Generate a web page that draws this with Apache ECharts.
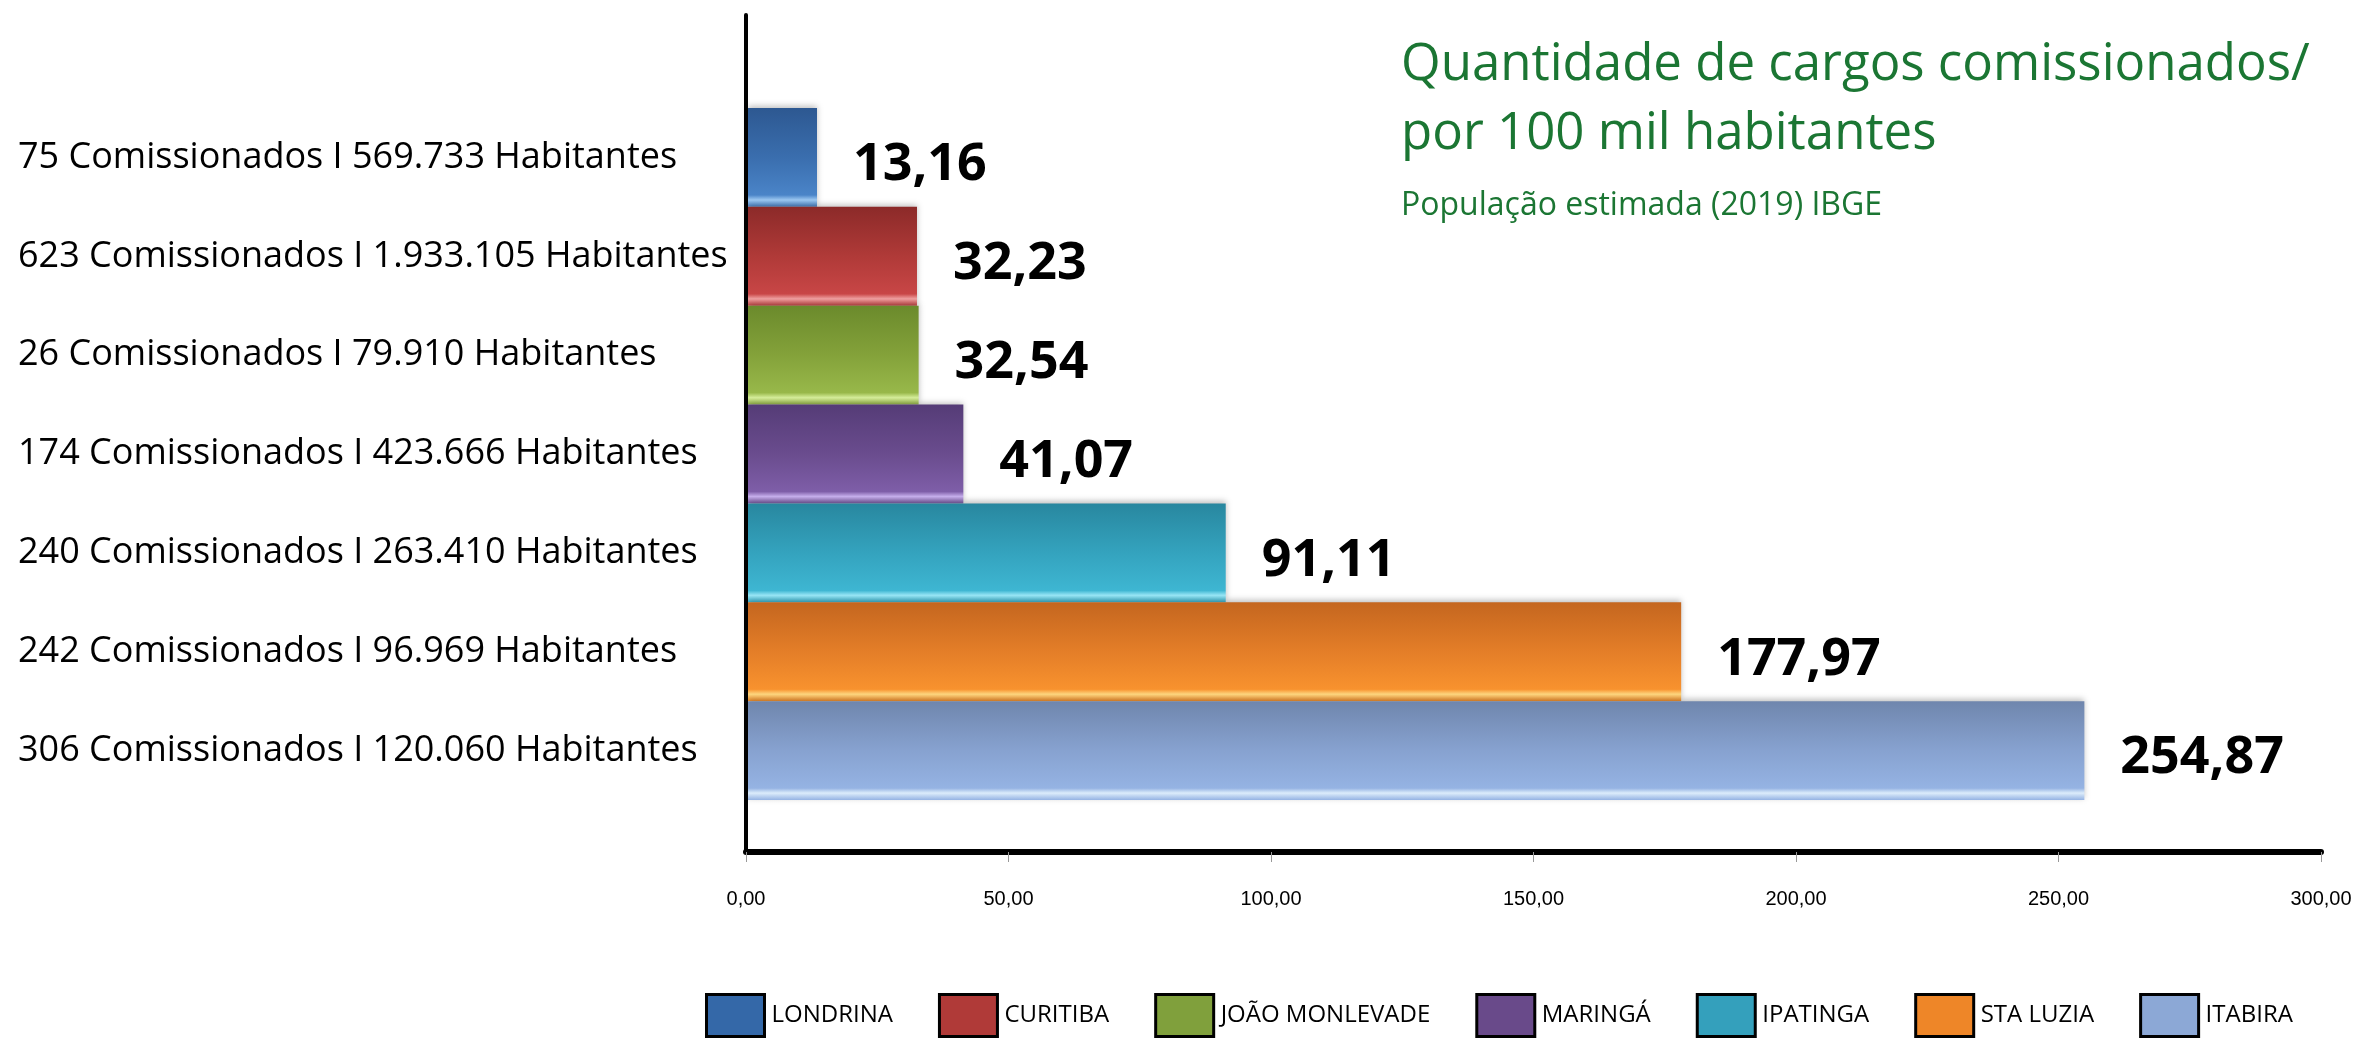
<!DOCTYPE html>
<html>
<head>
<meta charset="utf-8">
<title>Cargos comissionados por 100 mil habitantes</title>
<script src="https://cdn.jsdelivr.net/npm/echarts@6/dist/echarts.min.js"></script>
<style>
	html, body { margin: 0; padding: 0; background: #fff; }
	#bar { width: 2356px; height: 1039px; }
</style>
</head>
<body>
<div id="bar"></div>
<script>
var cidades = ['LONDRINA', 'CURITIBA', 'JOÃO MONLEVADE', 'MARINGÁ', 'IPATINGA', 'STA LUZIA', 'ITABIRA'];
var rotulos = [
	'75 Comissionados I 569.733 Habitantes',
	'623 Comissionados I 1.933.105 Habitantes',
	'26 Comissionados I 79.910 Habitantes',
	'174 Comissionados I 423.666 Habitantes',
	'240 Comissionados I 263.410 Habitantes',
	'242 Comissionados I 96.969 Habitantes',
	'306 Comissionados I 120.060 Habitantes'
];
var valores = [13.16, 32.23, 32.54, 41.07, 91.11, 177.97, 254.87];
var ticksX = [0, 50, 100, 150, 200, 250, 300];

// cores: topo, meio, base, brilho (efeito 3D do excel)
var cores = [
	['#2d5891', '#3a6eae', '#4a84c8', '#9cc8f2'],
	['#8c2a29', '#b03a38', '#c84646', '#f0a0a0'],
	['#6b8a2c', '#84a23a', '#98b84a', '#d6ee9a'],
	['#553c77', '#6a4c8e', '#7e5ea8', '#c8b0ee'],
	['#28879f', '#34a3be', '#3eb6d2', '#9ae8f8'],
	['#c4661f', '#e47e28', '#f8922e', '#ffd880'],
	['#6f86ad', '#87a2d0', '#95b3e3', '#dcecfb']
];
var coresLegenda = ['#3468a8', '#b03a38', '#80a03c', '#694a8a', '#34a0bc', '#ee8628', '#8ca8d6'];

function virgula(v) {
	return Number(v).toFixed(2).replace('.', ',');
}

function myChartInit() {
	var myChart = echarts.init(document.getElementById('bar'));

	var series = [];
	for (var i = 0, il = cidades.length; i < il; i++) {
		var dados = [];
		for (var j = 0; j < valores.length; j++) {
			dados.push(j === i ? valores[j] : '-');
		}
		series.push({
			name: cidades[i],
			type: 'bar',
			stack: 'cidades',
			xAxisIndex: 0,
			yAxisIndex: 0,
			barCategoryGap: 0,
			data: dados,
			itemStyle: {
				color: new echarts.graphic.LinearGradient(0, 0, 0, 1, [
					{ offset: 0, color: cores[i][0] },
					{ offset: 0.5, color: cores[i][1] },
					{ offset: 0.88, color: cores[i][2] },
					{ offset: 0.93, color: cores[i][3] },
					{ offset: 1, color: cores[i][2] }
				]),
				shadowColor: 'rgba(0,0,0,0.25)',
				shadowBlur: 6,
				shadowOffsetY: -2
			},
			label: {
				show: true,
				position: 'right',
				distance: 36,
				offset: [0, 8],
				formatter: function(p) { return virgula(p.value); },
				color: '#000',
				fontFamily: 'Open Sans',
				fontWeight: 'bold',
				fontSize: 52
			}
		});
	}

	var option = {
		backgroundColor: '#fff',
		animation: false,
		title: {
			text: 'Quantidade de cargos comissionados/\npor 100 mil habitantes',
			subtext: 'População estimada (2019) IBGE',
			left: 1396,
			top: 26,
			itemGap: 18,
			textStyle: {
				color: '#1b7633',
				fontFamily: 'Open Sans',
				fontWeight: 'normal',
				fontSize: 51,
				lineHeight: 69
			},
			subtextStyle: {
				color: '#1b7633',
				fontFamily: 'Open Sans',
				fontSize: 32,
				lineHeight: 38
			}
		},
		legend: {
			left: 700,
			top: 988,
			itemGap: 45,
			itemWidth: 58,
			itemHeight: 42,
			textStyle: { color: '#000', fontFamily: 'Open Sans', fontSize: 24, padding: [10, 0, 0, 2] },
			itemStyle: { borderColor: '#000', borderWidth: 3 },
			data: cidades.map(function(c, i) {
				return { name: c, icon: 'rect', itemStyle: { color: coresLegenda[i] } };
			})
		},
		grid: [
			{ left: 748, right: 35, top: 108, height: 692 },
			{ left: 746, right: 35, top: 15, bottom: 187 }
		],
		xAxis: [
			{ gridIndex: 0, type: 'value', min: ticksX[0], max: ticksX[ticksX.length - 1], show: false },
			{
				gridIndex: 1,
				type: 'value',
				min: ticksX[0],
				max: ticksX[ticksX.length - 1],
				interval: ticksX[1] - ticksX[0],
				axisLine: { show: true, lineStyle: { color: '#000', width: 6 } },
				axisTick: { show: true, length: 10, lineStyle: { color: '#999', width: 1 } },
				axisLabel: {
					margin: 37,
					color: '#000',
					fontFamily: 'Liberation Sans',
					fontSize: 20,
					formatter: function(v) { return virgula(v); }
				},
				splitLine: { show: false }
			}
		],
		yAxis: [
			{
				gridIndex: 0,
				type: 'category',
				inverse: true,
				data: rotulos,
				axisLine: { show: false },
				axisTick: { show: false },
				axisLabel: {
					align: 'left',
					margin: 730,
					color: '#000',
					fontFamily: 'Open Sans',
					fontSize: 36,
					padding: [8, 0, 0, 0]
				}
			},
			{
				gridIndex: 1,
				type: 'value',
				axisLine: { show: true, lineStyle: { color: '#000', width: 4 } },
				axisTick: { show: false },
				axisLabel: { show: false },
				splitLine: { show: false }
			}
		],
		series: series
	};
	myChart.setOption(option);
}

myChartInit();
</script>
</body>
</html>
